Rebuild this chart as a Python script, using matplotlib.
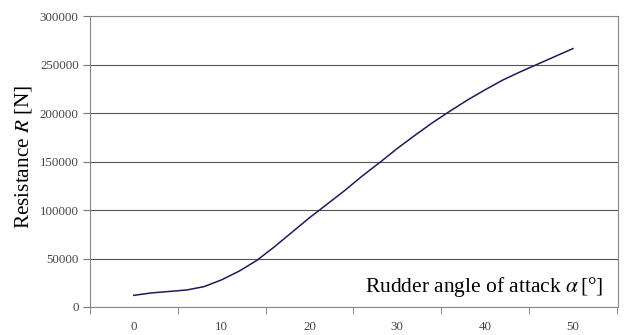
import numpy as np
import matplotlib
matplotlib.use("Agg")
import matplotlib.pyplot as plt

# rudder angle [deg] and resistance [N]
angle = [0, 2, 4, 6, 8, 10, 12, 14, 16, 18, 20, 22, 24, 26, 28, 30, 32, 34, 36, 38, 40, 42, 44, 46, 48, 50]
resistance = [12000, 14500, 16000, 17500, 21000, 28000, 37000, 48000, 62000, 77000, 92000, 106000,
              120000, 135000, 149000, 163500, 177000, 190000, 202000, 213500, 224000, 234000,
              242500, 250500, 258500, 266500]

x_labels = [0, 10, 20, 30, 40, 50]
y_ticks = [0, 50000, 100000, 150000, 200000, 250000, 300000]

plt.rcParams['font.family'] = ['Liberation Serif', 'DejaVu Serif']
plt.rcParams['mathtext.fontset'] = 'stix'

fig = plt.figure(figsize=(6.24, 3.35), dpi=100)
ax = fig.add_axes([0.144, 0.0836, 0.846, 0.8684])

ax.plot(angle, resistance, color='#1c1c5a', lw=1.1)

ax.set_xlim(-4.9, 55.1)
ax.set_ylim(0, 300000)
ax.set_yticks(y_ticks)
ax.set_yticklabels([str(v) for v in y_ticks])
ax.set_xticks(x_labels)
ax.set_xticklabels([str(v) for v in x_labels])
ax.set_xticks(np.arange(-5, 56, 10), minor=True)

ax.tick_params(axis='x', which='major', length=0, pad=10, labelsize=9.3, colors='#444444')
ax.tick_params(axis='x', which='minor', length=5, direction='out', color='#777777')
ax.tick_params(axis='y', which='major', length=5, direction='out', color='#777777',
               labelsize=9.3, labelcolor='#444444', pad=3)

ax.grid(axis='y', color='#555555', lw=0.8)
ax.set_axisbelow(True)
for s in ax.spines.values():
    s.set_color('#888888')
    s.set_linewidth(0.8)

ax.set_ylabel(r'Resistance $R$ [N]', fontsize=15.3)
ax.yaxis.set_label_coords(-0.105, 0.517)
ax.text(0.972, 0.07, r'Rudder angle of attack $\alpha\,$[°]', transform=ax.transAxes,
        ha='right', va='center', fontsize=15.5)

fig.savefig('out.png', dpi=100)
